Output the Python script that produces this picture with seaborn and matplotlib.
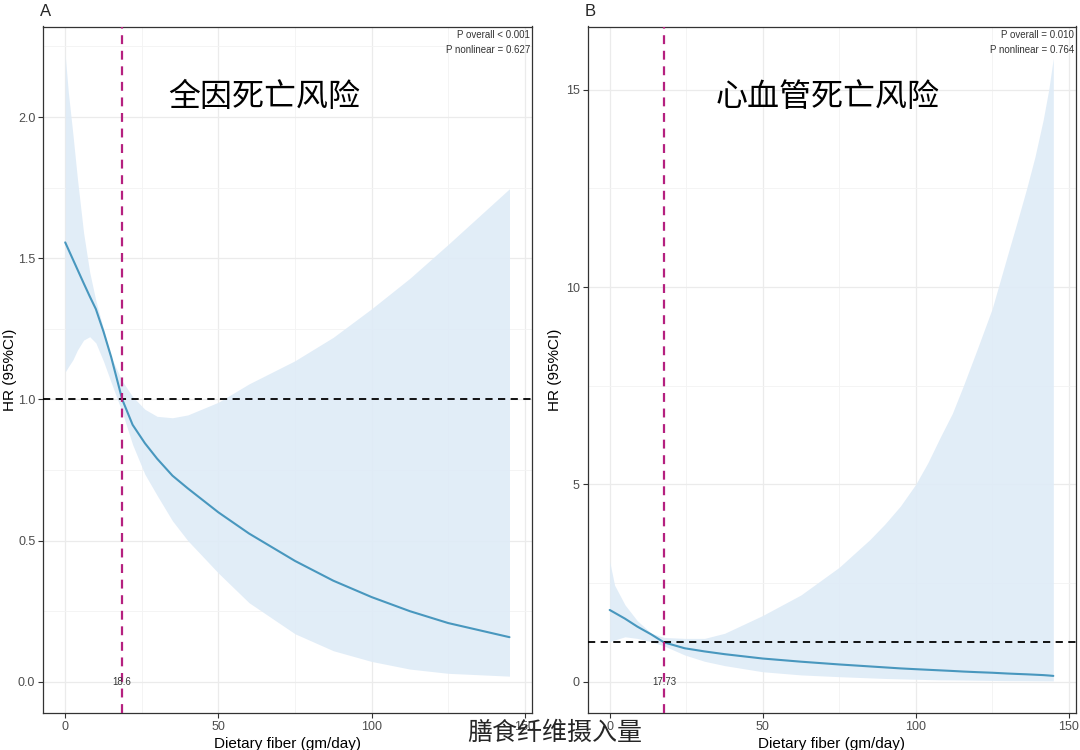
import numpy as np
import pandas as pd
import matplotlib
matplotlib.use("Agg")
import matplotlib.pyplot as plt
from matplotlib.ticker import MultipleLocator
import seaborn as sns

# ---------------- data ----------------
# Panel A: all-cause mortality
xa = [0, 1, 2.5, 4, 6, 8, 10, 12.5, 15, 18.6, 22, 26, 30, 35, 40, 50, 60, 75, 87.5, 100, 112.5, 125, 145]
hra = [1.556, 1.532, 1.496, 1.46, 1.412, 1.365, 1.32, 1.24, 1.15, 1.0, 0.91, 0.845, 0.79, 0.73, 0.685,
       0.60, 0.525, 0.428, 0.358, 0.30, 0.25, 0.208, 0.158]
upa = [2.22, 2.09, 1.94, 1.78, 1.59, 1.45, 1.35, 1.25, 1.15, 1.065, 1.01, 0.965, 0.94, 0.935, 0.945,
       0.99, 1.055, 1.137, 1.22, 1.321, 1.429, 1.549, 1.746]
loa = [1.097, 1.115, 1.14, 1.175, 1.21, 1.222, 1.20, 1.135, 1.06, 0.955, 0.84, 0.735, 0.66, 0.57, 0.50,
       0.385, 0.28, 0.17, 0.11, 0.072, 0.045, 0.03, 0.02]
ref_a = 18.6

# Panel B: cardiovascular mortality
xb = [0, 1.6, 5, 9, 13.6, 17.73, 24.5, 31, 37.6, 50, 62.5, 75, 85, 90, 95, 100, 104, 108, 112,
      115.6, 120, 125, 130, 133, 136.3, 139, 141.7, 143.5, 145]
hrb = [1.82, 1.75, 1.6, 1.40, 1.2, 1.0, 0.85, 0.77, 0.70, 0.59, 0.51, 0.44, 0.39, 0.365, 0.34, 0.32,
       0.305, 0.29, 0.275, 0.26, 0.245, 0.23, 0.21, 0.20, 0.19, 0.18, 0.17, 0.16, 0.15]
upb = [3.05, 2.45, 1.95, 1.55, 1.23, 1.125, 1.10, 1.10, 1.23, 1.68, 2.2, 2.9, 3.6, 4.0, 4.45, 5.0,
       5.55, 6.19, 6.8, 7.5, 8.4, 9.45, 10.8, 11.6, 12.5, 13.3, 14.24, 15.0, 15.8]
lob = [1.02, 1.06, 1.14, 1.10, 1.015, 0.91, 0.68, 0.52, 0.41, 0.255, 0.175, 0.13, 0.10, 0.085, 0.075,
       0.065, 0.057, 0.05, 0.048, 0.045, 0.04, 0.035, 0.03, 0.029, 0.028, 0.026, 0.025, 0.024, 0.023]
ref_b = 17.73

titles = ["全因死亡风险", "心血管死亡风险"]
panel_tags = ["A", "B"]
p_texts = [["P overall < 0.001", "P nonlinear = 0.627"],
           ["P overall = 0.010", "P nonlinear = 0.764"]]
ref_labels = ["18.6", "17.73"]
xlabel = "Dietary fiber (gm/day)"
ylabel = "HR (95%CI)"
bottom_label = "膳食纤维摄入量"

# ---------------- style ----------------
sns.set_theme(style="whitegrid")
plt.rcParams['font.family'] = ['Liberation Sans', 'Noto Sans CJK SC', 'DejaVu Sans']

LINE_C = "#4897be"
BAND_C = "#deebf7"
VLINE_C = "#b5207f"

fig = plt.figure(figsize=(10.8, 7.5), dpi=100)
ax_a = fig.add_axes([43/1080, 1-713/750, (531.7-43)/1080, (713-26.5)/750])
ax_b = fig.add_axes([587.5/1080, 1-713/750, (1075.5-587.5)/1080, (713-26.5)/750])

panels = [
    (ax_a, xa, hra, loa, upa, ref_a, (-0.1105, 2.3205), 0.5, 0.25, 0.452),
    (ax_b, xb, hrb, lob, upb, ref_b, (-0.79, 16.6), 5, 2.5, 0.493),
]

for i, (ax, x, hr, lo, up, ref, ylim, major, minor, tx) in enumerate(panels):
    df = pd.DataFrame({"x": x, "hr": hr, "lo": lo, "up": up})
    ax.set_facecolor("white")
    ax.fill_between(df["x"], df["lo"], df["up"], color=BAND_C, alpha=0.9, linewidth=0, zorder=1)
    sns.lineplot(data=df, x="x", y="hr", ax=ax, color=LINE_C, linewidth=1.5, zorder=3,
                 estimator=None, sort=False)
    ax.axhline(1.0, color="black", linestyle=(0, (4, 3)), linewidth=1.3, zorder=4)
    ax.axvline(ref, color=VLINE_C, linestyle=(0, (4, 3)), linewidth=1.6, zorder=4)
    ax.text(ref, 0, ref_labels[i], ha="center", va="center", fontsize=7, color="#333333", zorder=5)

    ax.set_xlim(-7.25, 152.25)
    ax.set_ylim(*ylim)
    ax.xaxis.set_major_locator(MultipleLocator(50))
    ax.xaxis.set_minor_locator(MultipleLocator(25))
    ax.yaxis.set_major_locator(MultipleLocator(major))
    ax.yaxis.set_minor_locator(MultipleLocator(minor))
    if i == 0:
        ax.yaxis.set_major_formatter(matplotlib.ticker.FormatStrFormatter("%.1f"))
    ax.grid(which="major", color="#ebebeb", linewidth=0.9, zorder=0)
    ax.grid(which="minor", color="#f3f3f3", linewidth=0.6, zorder=0)
    ax.set_axisbelow(True)
    for s in ax.spines.values():
        s.set_color("#333333")
        s.set_linewidth(0.9)
    ax.tick_params(which="major", direction="out", length=3.5, width=0.8, color="#333333",
                   labelsize=9, labelcolor="#4d4d4d", pad=2, bottom=True, left=True)
    ax.tick_params(which="minor", length=0)
    ax.set_xlabel(xlabel, fontsize=11, color="black", labelpad=3)
    ax.set_ylabel(ylabel, fontsize=11, color="black", labelpad=1)

    ax.text(tx, 0.897, titles[i], transform=ax.transAxes, ha="center", va="center",
            fontsize=23, color="black", family=['Noto Sans CJK SC', 'DejaVu Sans'])
    ax.text(0.997, 0.987, p_texts[i][0], transform=ax.transAxes, ha="right", va="center",
            fontsize=7, color="#333333")
    ax.text(0.997, 0.966, p_texts[i][1], transform=ax.transAxes, ha="right", va="center",
            fontsize=7, color="#333333")

ax_a.yaxis.set_label_coords(-0.053, 0.5)
ax_b.yaxis.set_label_coords(-0.052, 0.5)

fig.text(40/1080, 1-11/750, panel_tags[0], fontsize=12, ha="left", va="center")
fig.text(585/1080, 1-11/750, panel_tags[1], fontsize=12, ha="left", va="center")
fig.text(555/1080, 1-733/750, bottom_label, fontsize=18, ha="center", va="center",
         family=['Noto Sans CJK SC', 'DejaVu Sans'])

fig.savefig("out.png", dpi=100, facecolor="white")
